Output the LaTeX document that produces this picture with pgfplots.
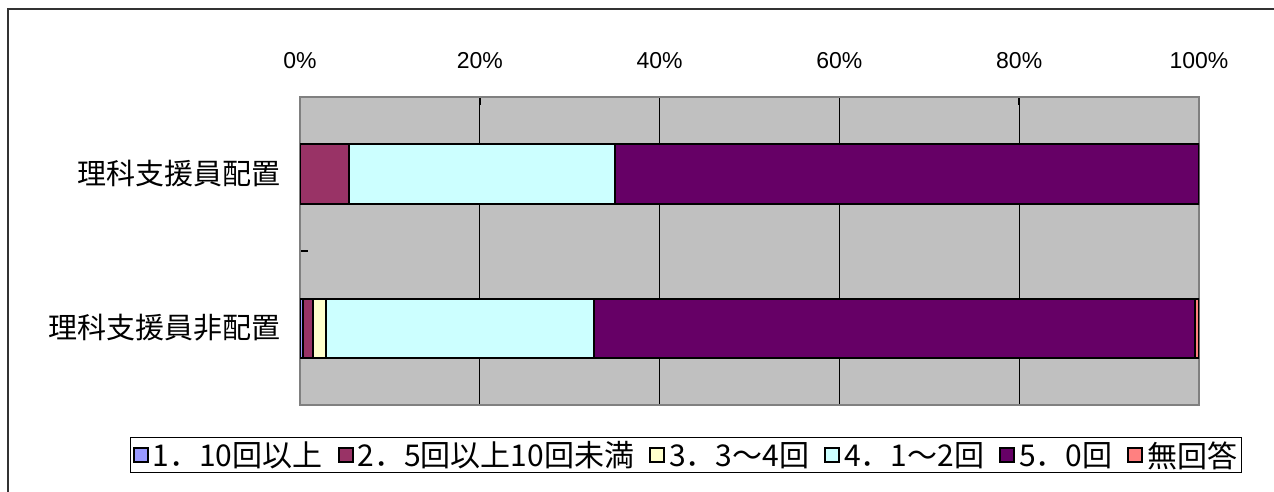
\documentclass[border=0pt]{standalone}
\usepackage{fontspec}
\setmainfont{Liberation Sans}
\newfontfamily\cjk{Noto Sans CJK JP}
\usepackage{pgfplots}
\pgfplotsset{compat=1.18}
\definecolor{cA}{HTML}{9999FF}
\definecolor{cB}{HTML}{993366}
\definecolor{cC}{HTML}{FFFFCC}
\definecolor{cD}{HTML}{CCFFFF}
\definecolor{cE}{HTML}{660066}
\definecolor{cF}{HTML}{FF8080}
\definecolor{bg}{HTML}{C0C0C0}
\definecolor{frm}{HTML}{808080}
\begin{document}
\begin{tikzpicture}
\useasboundingbox (0pt,0pt) rectangle (1274pt,492pt);
\draw[line width=2pt, color=black!80] (8pt,-10pt) -- (8pt,483pt) -- (1290pt,483pt);
\begin{axis}[
  at={(300pt,87pt)}, anchor=south west,
  width=899pt, height=308pt, scale only axis,
  xbar stacked, bar width=59pt,
  every axis plot post/.append style={legend image code/.code={\draw[##1,line width=2pt] (0pt,-7pt) rectangle (14pt,7pt);}},
  xmin=0, xmax=100, ymin=-0.5, ymax=1.5, y dir=reverse,
  axis background/.style={fill=bg},
  axis line style={draw=frm, line width=2pt},
  xmajorgrids, major grid style={black, line width=1.2pt},
  xtick={0,20,40,60,80,100},
  /pgf/number format/assume math mode=true,
  xticklabel={\pgfmathprintnumber{\tick}\%},
  xticklabel pos=upper, xtick pos=upper,
  xticklabel style={font=\fontsize{23}{26}\selectfont, yshift=25pt},
  ytick={0.5}, yticklabels={}, ytick pos=left,
  tick align=inside, major tick length=8pt,
  tick style={black, line width=1.5pt},
  extra y ticks={0,1},
  extra y tick labels={理科支援員配置,理科支援員非配置},
  extra y tick style={major tick length=0pt, ytick pos=left,
     yticklabel style={font=\cjk\fontsize{29}{32}\selectfont, xshift=-16pt}},
  legend columns=6,
  legend style={at={(axis description cs:-0.189,-0.104)}, anchor=north west,
     draw=black, line width=1pt, fill=white,
     font=\cjk\fontsize{30}{32}\selectfont, inner sep=2pt,
     /tikz/every odd column/.append style={column sep=2pt},
     /tikz/every even column/.append style={column sep=13pt}},
  legend cell align=left,
]
\addplot+[fill=cA, draw=black, line width=2pt] coordinates {(0,0) (0.3,1)};
\addplot+[fill=cB, draw=black, line width=2pt] coordinates {(5.4,0) (1.1,1)};
\addplot+[fill=cC, draw=black, line width=2pt] coordinates {(0,0) (1.5,1)};
\addplot+[fill=cD, draw=black, line width=2pt] coordinates {(29.6,0) (29.8,1)};
\addplot+[fill=cE, draw=black, line width=2pt] coordinates {(65.0,0) (66.85,1)};
\addplot+[fill=cF, draw=black, line width=2pt] coordinates {(0,0) (0.45,1)};
\legend{1．10回以上,2．5回以上10回未満,3．3～4回,4．1～2回,5．0回,無回答}
\end{axis}
\end{tikzpicture}
\end{document}
